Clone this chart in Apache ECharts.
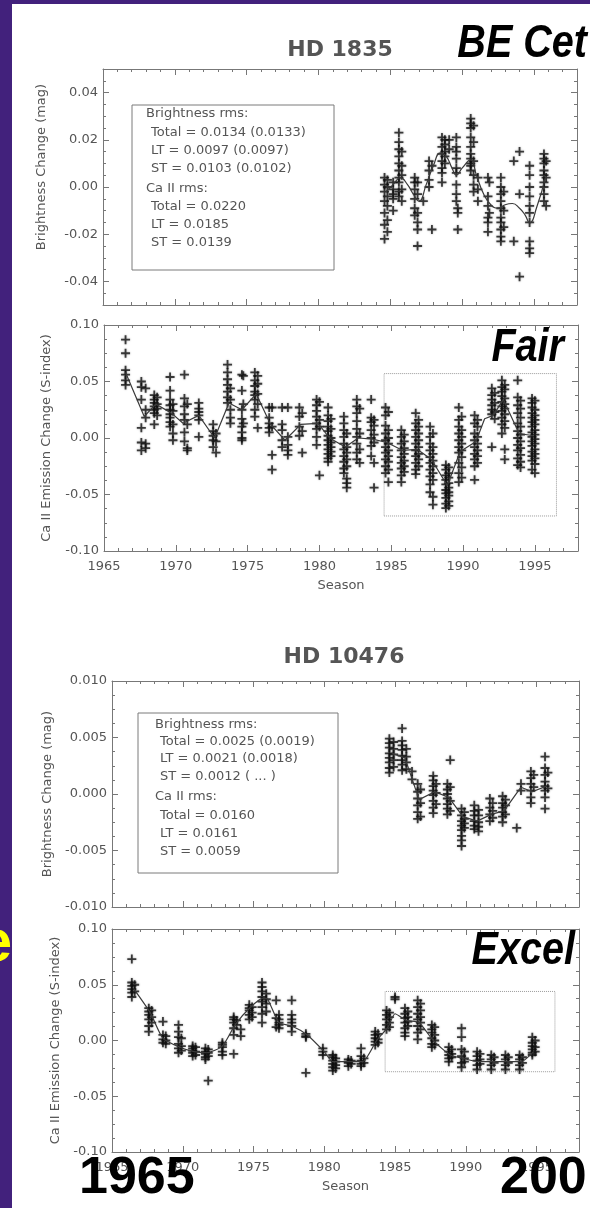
<!DOCTYPE html>
<html><head><meta charset="utf-8">
<script src="https://cdn.jsdelivr.net/npm/echarts@6/dist/echarts.min.js"></script>
<style>html,body{margin:0;padding:0;background:#fff}#c{width:590px;height:1208px}</style>
</head><body><div id="c"></div>
<script>
// ---------- DATA ----------
const xLabelYears = [1965, 1970, 1975, 1980, 1985, 1990, 1995];
const photTicks1835 = [-0.04, -0.02, 0, 0.02, 0.04];
const caTicks = [-0.10, -0.05, 0, 0.05, 0.10];
const photTicks10476 = [-0.010, -0.005, 0, 0.005, 0.010];

// HD 1835 brightness: [season, [values]]
const hd1835Phot = [
 [1984.6,[0.004,0.001,-0.002,-0.006,-0.011,-0.016,-0.022]],
 [1984.8,[0.003,0.000,-0.004,-0.008,-0.014,-0.019]],
 [1985.2,[0.002,-0.001,-0.005,-0.010,-0.003]],
 [1985.6,[0.023,0.019,0.016,0.013,0.010,0.007,0.004,0.002,-0.002,-0.004]],
 [1985.8,[0.015,0.009,0.005,-0.001,-0.006]],
 [1986.7,[0.004,0.002,-0.001,-0.005,-0.009,-0.012]],
 [1986.9,[0.002,-0.003,-0.011,-0.015,-0.018,-0.025]],
 [1987.3,[-0.006]],
 [1987.7,[0.011,0.007,0.003,0.000]],
 [1987.9,[-0.018,0.009]],
 [1988.6,[0.021,0.017,0.014,0.011,0.008,0.006,0.002]],
 [1988.8,[0.020,0.018,0.015,0.013,0.010]],
 [1989.1,[0.020,0.016]],
 [1989.6,[0.021,0.017,0.015,0.012,0.008,0.006,0.001,-0.003,-0.006]],
 [1989.7,[-0.009,-0.011,-0.018]],
 [1990.6,[0.029,0.027,0.025,0.021,0.017,0.014,0.012,0.010,0.009,0.007]],
 [1990.8,[0.026,0.019,0.011,0.005,0.001,-0.002]],
 [1991.1,[0.004,-0.001,-0.006]],
 [1991.8,[0.004,-0.004,-0.008,-0.013,-0.015,-0.019]],
 [1991.9,[0.002,-0.011]],
 [1992.7,[0.004,0.000,-0.003,-0.006,-0.009,-0.013,-0.015,-0.018,-0.021,-0.023]],
 [1992.9,[-0.002,-0.010,-0.017]],
 [1993.6,[0.011,-0.023]],
 [1994.0,[0.015,-0.003,-0.038]],
 [1994.7,[0.009,0.005,0.000,-0.004,-0.008,-0.011,-0.015,-0.023,-0.026,-0.028]],
 [1995.7,[0.014,0.012,0.010,0.007,0.005,0.002,0.000,-0.003,-0.006]],
 [1995.85,[0.011,0.004,-0.008]]
];
const hd1835PhotLtX = [1984.7,1985.2,1985.7,1986.2,1986.6,1987.0,1987.5,1988.0,1988.5,1988.9,1989.3,1989.6,1990.0,1990.6,1991.0,1991.5,1992.0,1992.5,1993.0,1993.5,1994.0,1994.4,1994.7,1995.2,1995.8];
const hd1835PhotLtY = [-0.002,0.001,0.004,0.001,-0.003,-0.006,0.001,0.009,0.0145,0.013,0.008,0.005,0.008,0.0115,0.005,-0.003,-0.0075,-0.009,-0.0075,-0.007,-0.009,-0.012,-0.0153,-0.0085,0.004];

// HD 1835 Ca II
const hd1835Ca = [
 [1966.5,[0.087,0.075,0.060,0.056,0.051,0.047]],
 [1967.6,[0.050,0.045,0.034,0.009,-0.004,-0.011]],
 [1967.9,[0.044,0.025,0.018,-0.005,-0.009]],
 [1968.5,[0.038,0.034,0.031,0.028,0.025,0.022,0.012]],
 [1968.7,[0.036,0.030,0.026,0.020]],
 [1969.6,[0.054,0.042,0.034,0.029,0.025,0.021,0.018,0.014,0.010]],
 [1969.8,[0.030,0.024,0.004,-0.002,0.012]],
 [1970.6,[0.056,0.035,0.028,0.021,0.016,0.005,-0.003]],
 [1970.8,[0.030,0.012,-0.011,-0.009]],
 [1971.6,[0.031,0.026,0.020,0.016,0.001,0.023]],
 [1972.6,[0.012,0.006,0.002,-0.002,-0.008]],
 [1972.8,[0.004,-0.003,-0.013]],
 [1973.6,[0.065,0.058,0.052,0.047,0.041,0.036,0.031]],
 [1973.8,[0.034,0.025,0.018,0.013,0.044]],
 [1974.6,[0.056,0.042,0.025,0.017,0.010,0.005,0.000,-0.002]],
 [1974.7,[0.055,0.030,0.013]],
 [1975.5,[0.058,0.051,0.046,0.041,0.038,0.034,0.025,0.019]],
 [1975.7,[0.055,0.048,0.039,0.030,0.009]],
 [1976.5,[0.027,0.018,0.013,0.009,0.005]],
 [1976.7,[0.027,0.010,-0.015,-0.028]],
 [1977.4,[0.027,0.012,0.007,-0.002,-0.008]],
 [1977.8,[0.027,-0.011,-0.006,-0.015,0.001]],
 [1978.6,[0.027,0.019,0.010,0.002]],
 [1978.8,[0.022,0.006,-0.013]],
 [1979.8,[0.034,0.029,0.024,0.019,0.013,0.008,0.001,-0.006]],
 [1980.0,[0.032,0.016,0.010,-0.033]],
 [1980.6,[0.027,0.020,0.015,0.010,0.006,0.002,-0.002,-0.006,-0.010,-0.014,-0.018,-0.021]],
 [1980.8,[0.017,0.008,0.000,-0.004,-0.008,-0.012,-0.016]],
 [1981.7,[0.019,0.013,0.007,0.001,-0.005,-0.010,-0.016,-0.021,-0.027,-0.031]],
 [1981.9,[0.004,-0.008,-0.013,-0.019,-0.025,-0.036,-0.040,-0.044]],
 [1982.6,[0.034,0.028,0.022,0.015,0.008,0.001,-0.005,-0.013,-0.019]],
 [1982.8,[0.026,0.004,-0.010,-0.022]],
 [1983.6,[0.034,0.018,0.014,0.007,0.000,-0.007,-0.016]],
 [1983.8,[0.016,0.011,0.003,-0.004,-0.044,-0.022]],
 [1984.6,[0.027,0.020,0.011,0.004,-0.002,-0.008,-0.013,-0.019,-0.025,-0.031]],
 [1984.8,[0.023,0.007,0.000,-0.005,-0.011,-0.016,-0.021,-0.028,-0.039]],
 [1985.7,[0.007,0.001,-0.005,-0.011,-0.017,-0.022,-0.027,-0.033,-0.039]],
 [1985.9,[0.003,-0.003,-0.009,-0.014,-0.020,-0.025,-0.030]],
 [1986.7,[0.022,0.013,0.007,0.001,-0.005,-0.011,-0.016,-0.022,-0.028,-0.032]],
 [1986.9,[0.016,0.010,0.004,-0.002,-0.008,-0.014,-0.019,-0.025]],
 [1987.7,[0.010,0.001,-0.005,-0.011,-0.017,-0.022,-0.028,-0.034,-0.041,-0.048]],
 [1987.9,[0.004,-0.008,-0.014,-0.020,-0.025,-0.031,-0.037,-0.052,-0.059]],
 [1988.8,[-0.024,-0.028,-0.033,-0.037,-0.041,-0.046,-0.049,-0.053,-0.058,-0.062]],
 [1989.0,[-0.026,-0.031,-0.035,-0.040,-0.044,-0.048,-0.051,-0.056,-0.060]],
 [1989.7,[0.027,0.016,0.010,0.004,-0.002,-0.008,-0.013,-0.022,-0.031,-0.039]],
 [1989.9,[0.019,0.007,0.001,-0.005,-0.011,-0.017,-0.026,-0.035]],
 [1990.8,[0.020,0.013,0.004,-0.002,-0.008,-0.014,-0.019,-0.025,-0.037]],
 [1991.0,[0.016,0.010,0.001,-0.005,-0.011,-0.016,-0.022]],
 [1992.0,[0.044,0.038,0.034,0.029,0.025,0.021,-0.008]],
 [1992.2,[0.040,0.031,0.023,0.017]],
 [1992.7,[0.051,0.045,0.041,0.037,0.032,0.028,0.024,0.018,0.012,0.004]],
 [1992.9,[0.047,0.043,0.035,0.030,0.026,0.021,0.015,0.009,-0.010,-0.019]],
 [1993.8,[0.051,0.036,0.029,0.022,0.013,0.006,0.000,-0.006,-0.011,-0.018,-0.024]],
 [1994.0,[0.033,0.026,0.018,0.010,0.003,-0.003,-0.009,-0.015,-0.021,-0.026]],
 [1994.8,[0.035,0.031,0.027,0.022,0.018,0.014,0.010,0.005,0.001,-0.003,-0.007,-0.012,-0.016,-0.020,-0.028]],
 [1995.0,[0.033,0.025,0.020,0.016,0.012,0.007,0.003,-0.001,-0.005,-0.010,-0.014,-0.018,-0.023,-0.031]]
];
const hd1835CaLtX = [1966.5,1967.8,1968.6,1969.7,1970.5,1971.6,1972.7,1973.7,1974.6,1975.6,1976.6,1977.6,1978.7,1979.9,1980.7,1981.8,1982.7,1983.7,1984.7,1985.8,1986.8,1987.8,1988.9,1989.8,1990.9,1991.5,1992.1,1992.8,1993.9,1994.9];
const hd1835CaLtY = [0.058,0.019,0.030,0.022,0.013,0.020,0.000,0.031,0.025,0.039,0.012,-0.002,0.012,0.013,0.000,-0.008,0.000,-0.001,-0.004,-0.011,-0.010,-0.019,-0.042,-0.012,-0.003,0.017,0.020,0.034,0.004,0.002];
const hd1835PhotSpan = [1984.5, -0.069, 1996.5, 0.057];

// HD 10476 brightness
const hd10476Phot = [
 [1984.6,[0.0049,0.0045,0.0041,0.0036,0.0032,0.0028,0.0023,0.0019]],
 [1984.9,[0.0046,0.0040,0.0035,0.0030,0.0024]],
 [1985.5,[0.0058,0.0047,0.0043,0.0039,0.0034,0.0030,0.0026,0.0021]],
 [1985.8,[0.0040,0.0033,0.0028,0.0022]],
 [1986.2,[0.0020,0.0013]],
 [1986.6,[0.0009,0.0002,-0.0004,-0.0010,-0.0016,-0.0022]],
 [1986.8,[0.0004,-0.0008,-0.0020]],
 [1987.7,[0.0016,0.0012,0.0007,0.0003,-0.0001,-0.0006,-0.0012,-0.0017]],
 [1987.9,[0.0009,0.0001,-0.0009]],
 [1988.7,[0.0009,0.0004,0.0000,-0.0004,-0.0009,-0.0013,-0.0018]],
 [1988.9,[0.0030,0.0006,-0.0006,-0.0015]],
 [1989.7,[-0.0013,-0.0019,-0.0024,-0.0028,-0.0032,-0.0037,-0.0041,-0.0046]],
 [1989.9,[-0.0016,-0.0022,-0.0026,-0.0030]],
 [1990.6,[-0.0010,-0.0015,-0.0019,-0.0024,-0.0028,-0.0031]],
 [1990.9,[-0.0014,-0.0019,-0.0025,-0.0029,-0.0033]],
 [1991.7,[-0.0004,-0.0012,-0.0018,-0.0024]],
 [1991.9,[-0.0008,-0.0015,-0.0021]],
 [1992.6,[-0.0002,-0.0008,-0.0012,-0.0016,-0.0020,-0.0025]],
 [1992.8,[-0.0005,-0.0010,-0.0018]],
 [1993.6,[-0.0030]],
 [1993.9,[0.0009,0.0003]],
 [1994.6,[0.0020,0.0014,0.0009,0.0003,-0.0003,-0.0008]],
 [1994.8,[0.0017,0.0006]],
 [1995.6,[0.0033,0.0023,0.0017,0.0011,0.0007,0.0003,-0.0003,-0.0013]],
 [1995.8,[0.0019,0.0005]]
];
const hd10476PhotLtX = [1984.8,1985.7,1986.7,1987.8,1988.8,1989.8,1990.8,1991.8,1992.7,1993.9,1994.7,1995.7];
const hd10476PhotLtY = [0.0036,0.0032,-0.0005,0.0002,-0.0003,-0.0020,-0.0024,-0.0018,-0.0015,0.0006,0.0002,0.0007];

// HD 10476 Ca II
const hd10476Ca = [
 [1966.4,[0.073,0.052,0.049,0.046,0.043,0.039]],
 [1966.6,[0.050,0.044]],
 [1967.6,[0.029,0.026,0.023,0.019,0.013,0.008]],
 [1967.8,[0.027,0.021,0.016]],
 [1968.6,[0.017,0.005,0.001,-0.002]],
 [1968.8,[0.004,0.000,-0.003]],
 [1969.7,[0.014,0.008,0.003,-0.003,-0.007,-0.011]],
 [1969.9,[0.002,-0.005,-0.009]],
 [1970.7,[-0.005,-0.007,-0.009,-0.011,-0.014]],
 [1970.9,[-0.006,-0.010,-0.013]],
 [1971.6,[-0.007,-0.010,-0.012,-0.015,-0.017]],
 [1971.8,[-0.008,-0.011,-0.014,-0.036]],
 [1972.8,[-0.002,-0.006,-0.010,-0.013,-0.004]],
 [1973.6,[0.021,0.019,0.016,0.011,0.005,-0.012]],
 [1973.8,[0.018,0.014]],
 [1974.1,[0.010,0.004]],
 [1974.7,[0.032,0.029,0.027,0.023,0.019]],
 [1974.9,[0.030,0.025,0.021]],
 [1975.6,[0.052,0.048,0.044,0.039,0.035,0.030,0.024,0.016]],
 [1975.9,[0.042,0.037,0.033,0.026]],
 [1976.6,[0.036,0.020,0.012]],
 [1976.8,[0.023,0.019,0.016,0.014,0.011]],
 [1977.7,[0.036,0.023,0.019,0.016,0.013,0.008]],
 [1978.7,[0.006,0.004,0.003,-0.029]],
 [1979.9,[-0.007,-0.010,-0.013]],
 [1980.6,[-0.013,-0.015,-0.018,-0.021,-0.024,-0.027]],
 [1980.8,[-0.016,-0.019,-0.022,-0.025]],
 [1981.7,[-0.017,-0.020,-0.023,-0.019]],
 [1981.9,[-0.018,-0.021]],
 [1982.6,[-0.007,-0.014,-0.018,-0.021,-0.023]],
 [1982.8,[-0.016,-0.020]],
 [1983.6,[0.008,0.005,0.002,-0.001,-0.004]],
 [1983.8,[0.006,0.001,-0.002]],
 [1984.4,[0.027,0.023,0.019,0.014,0.010]],
 [1984.6,[0.025,0.021,0.016,0.012]],
 [1985.0,[0.039,0.037]],
 [1985.7,[0.029,0.024,0.020,0.016,0.011,0.007,0.004]],
 [1985.9,[0.026,0.021,0.017,0.013]],
 [1986.6,[0.036,0.030,0.024,0.019,0.013,0.007,0.001]],
 [1986.8,[0.033,0.027,0.021,0.016,0.010]],
 [1987.6,[0.014,0.010,0.007,0.002,-0.003,-0.006]],
 [1987.8,[0.012,0.005,0.000,-0.004]],
 [1988.8,[-0.006,-0.010,-0.013,-0.016,-0.019]],
 [1989.0,[-0.008,-0.012,-0.015]],
 [1989.7,[0.011,0.003,-0.008,-0.014,-0.020,-0.024]],
 [1989.9,[-0.010,-0.016,-0.019]],
 [1990.8,[-0.010,-0.014,-0.018,-0.022,-0.026]],
 [1991.0,[-0.012,-0.017,-0.021]],
 [1991.8,[-0.013,-0.017,-0.022,-0.026]],
 [1992.0,[-0.015,-0.020]],
 [1992.8,[-0.013,-0.017,-0.022,-0.026]],
 [1993.0,[-0.015,-0.020]],
 [1993.8,[-0.013,-0.017,-0.022,-0.026]],
 [1994.0,[-0.015,-0.020]],
 [1994.7,[0.003,-0.002,-0.005,-0.008,-0.011,-0.013]],
 [1994.9,[0.000,-0.006,-0.010]]
];
const hd10476CaLtX = [1966.5,1967.7,1968.6,1969.8,1970.8,1971.7,1972.8,1973.7,1974.8,1975.7,1976.0,1976.8,1977.7,1978.8,1980.0,1980.6,1981.7,1982.7,1983.7,1984.5,1985.0,1985.8,1986.7,1987.7,1988.9,1989.8,1990.9,1991.9,1992.9,1993.9,1994.8];
const hd10476CaLtY = [0.047,0.025,0.002,-0.006,-0.010,-0.011,-0.005,0.014,0.030,0.038,0.037,0.016,0.013,0.005,-0.010,-0.019,-0.019,-0.019,0.000,0.012,0.024,0.018,0.016,0.000,-0.013,-0.016,-0.019,-0.019,-0.019,-0.019,-0.010];
const hd10476PhotSpan = [1984.3, -0.028, 1996.3, 0.044];

const hd1835Stats = ['Brightness rms:', 'Total = 0.0134 (0.0133)', 'LT = 0.0097 (0.0097)', 'ST = 0.0103 (0.0102)', 'Ca II rms:', 'Total = 0.0220', 'LT = 0.0185', 'ST = 0.0139'];
const hd10476Stats = ['Brightness rms:', 'Total = 0.0025 (0.0019)', 'LT = 0.0021 (0.0018)', 'ST = 0.0012 ( ... )', 'Ca II rms:', 'Total = 0.0160', 'LT = 0.0161', 'ST = 0.0059'];

// ---------- BUILD ----------
const FONT = '"DejaVu Sans", sans-serif';
const TXT = '#555';
const LC = '#777';
const PLUS = 'path://M4 0h2v4h4v2h-4v4h-2v-4h-4v-2h4z';

function pts(clusters) { return clusters.flatMap(([x, ys]) => ys.map(y => [x, y])); }
function zip(xs, ys) { return xs.map((x, i) => [x, ys[i]]); }
function fmt(v, d) { return (Math.abs(v) < 1e-9 ? 0 : v).toFixed(d); }

const grids = [
  {left:103, top:69, width:474, height:236},
  {left:104, top:325, width:474, height:226},
  {left:112, top:681, width:467, height:226},
  {left:112, top:929, width:467, height:223}
];
const panelCfg = [
  {yMin:-0.05, yMax:0.05, yMinor:0.005, yMajor:photTicks1835, dec:2, showX:false, yName:'Brightness Change (mag)', gap:55, pad:[0,0,0,40]},
  {yMin:-0.10, yMax:0.10, yMinor:0.0125, yMajor:caTicks, dec:2, showX:true, yName:'Ca II Emission Change (S-index)', gap:51, pad:0},
  {yMin:-0.010, yMax:0.010, yMinor:0.00125, yMajor:photTicks10476, dec:3, showX:false, yName:'Brightness Change (mag)', gap:57, pad:0},
  {yMin:-0.10, yMax:0.10, yMinor:0.0125, yMajor:caTicks, dec:2, showX:true, yName:'Ca II Emission Change (S-index)', gap:49, pad:0}
];

const xAxis = [], yAxis = [];
const tickMinor = {show:true, inside:true, length:3, lineStyle:{color:LC, width:1}};
const tickMajor = vals => ({show:true, inside:true, length:6, customValues:vals, lineStyle:{color:LC, width:1}});
panelCfg.forEach((o, gi) => {
  ['bottom','top'].forEach(pos => {
    const lab = pos === 'bottom' && o.showX;
    xAxis.push({type:'value', gridIndex:gi, position:pos, min:1965, max:1998, interval:1,
      axisLine:{show:true, onZero:false, lineStyle:{color:LC, width:1}},
      axisTick:tickMinor, splitLine:{show:false},
      axisLabel: lab ? {show:true, customValues:xLabelYears, margin:9, color:TXT, fontFamily:FONT, fontSize:13, formatter:v=>String(Math.round(v))} : {show:false},
      name: lab ? 'Season' : '', nameLocation:'middle', nameGap:28,
      nameTextStyle:{color:TXT, fontFamily:FONT, fontSize:13}});
    xAxis.push({type:'value', gridIndex:gi, position:pos, min:1965, max:1998, interval:1,
      axisLine:{show:false, onZero:false}, axisTick:tickMajor(xLabelYears), axisLabel:{show:false}, splitLine:{show:false}});
  });
  ['left','right'].forEach(pos => {
    const lab = pos === 'left';
    yAxis.push({type:'value', gridIndex:gi, position:pos, min:o.yMin, max:o.yMax, interval:o.yMinor,
      axisLine:{show:true, onZero:false, lineStyle:{color:LC, width:1}},
      axisTick:tickMinor, splitLine:{show:false},
      axisLabel: lab ? {show:true, customValues:o.yMajor, margin:5, color:TXT, fontFamily:FONT, fontSize:13, formatter:v=>fmt(v, o.dec)} : {show:false},
      name: lab ? o.yName : '', nameLocation:'middle', nameGap:o.gap, nameRotate:90,
      nameTextStyle:{color:TXT, fontFamily:FONT, fontSize:13, padding:o.pad}});
    yAxis.push({type:'value', gridIndex:gi, position:pos, min:o.yMin, max:o.yMax, interval:o.yMinor,
      axisLine:{show:false, onZero:false}, axisTick:tickMajor(o.yMajor), axisLabel:{show:false}, splitLine:{show:false}});
  });
});

function scatter(gi, clusters, span) {
  const s = {type:'scatter', xAxisIndex:gi*4, yAxisIndex:gi*4, data:pts(clusters), symbol:PLUS, symbolSize:9,
    itemStyle:{color:'#111', opacity:0.78, shadowBlur:2, shadowColor:'rgba(0,0,0,0.45)'}, silent:true, z:3};
  if (span) {
    s.markArea = {silent:true, itemStyle:{color:'rgba(0,0,0,0)', borderColor:'#9a9a9a', borderWidth:1, borderType:'dotted', shadowBlur:0},
      data:[[{coord:[span[0], span[1]]}, {coord:[span[2], span[3]]}]]};
  }
  return s;
}
function ltLine(gi, xs, ys, smooth) {
  return {type:'line', xAxisIndex:gi*4, yAxisIndex:gi*4, data:zip(xs, ys), showSymbol:false, symbol:'none', smooth:smooth,
    lineStyle:{color:'#3a3a3a', width:1.2}, silent:true, z:4};
}

const series = [
  scatter(0, hd1835Phot), ltLine(0, hd1835PhotLtX, hd1835PhotLtY, 0.5),
  scatter(1, hd1835Ca, hd1835PhotSpan), ltLine(1, hd1835CaLtX, hd1835CaLtY, false),
  scatter(2, hd10476Phot), ltLine(2, hd10476PhotLtX, hd10476PhotLtY, false),
  scatter(3, hd10476Ca, hd10476PhotSpan), ltLine(3, hd10476CaLtX, hd10476CaLtY, 0.2)
];

function txt(text, x, y, font, fill, align) {
  return {type:'text', z:100, silent:true, style:{text, x, y, font, fill, align:align||'left', verticalAlign:'middle'}};
}
function narrowTxt(text, x, y) {
  return {type:'text', z:100, silent:true, x, y, scaleX:0.86, scaleY:1,
    style:{text, x:0, y:0, font:'italic bold 46px "Liberation Sans", Arial, sans-serif', fill:'#000', align:'right', verticalAlign:'middle'}};
}
function statsBox(lines, box, xh, xi, ys) {
  const els = [{type:'rect', z:90, silent:true, shape:{x:box[0], y:box[1], width:box[2], height:box[3]},
    style:{fill:'#fff', stroke:'#7a7a7a', lineWidth:1}}];
  lines.forEach((l, i) => {
    const head = (i === 0 || i === 4);
    els.push(txt(l, head ? xh : xi, ys[i], '13px ' + FONT, TXT));
  });
  return els;
}

const graphic = [
  {type:'rect', z:95, silent:true, shape:{x:0, y:0, width:12, height:1208}, style:{fill:'#42217c'}},
  {type:'rect', z:95, silent:true, shape:{x:0, y:0, width:590, height:4}, style:{fill:'#42217c'}},
  txt('HD 1835', 340, 50, 'bold 22px ' + FONT, '#555', 'center'),
  txt('HD 10476', 344, 657, 'bold 22px ' + FONT, '#555', 'center'),
  ...statsBox(hd1835Stats, [132,105,202,165], 146, 151, [114,133,151,169,189,207,225,243]),
  ...statsBox(hd10476Stats, [138,713,200,160], 155, 160, [725,742,759,777,797,816,834,852]),
  narrowTxt('BE Cet', 587, 44),
  narrowTxt('Fair', 564, 348),
  narrowTxt('Excel', 575, 951),
  txt('1965', 79, 1179, 'bold 52px "Liberation Sans", Arial, sans-serif', '#000', 'left'),
  txt('200', 500, 1179, 'bold 52px "Liberation Sans", Arial, sans-serif', '#000', 'left'),
  txt('e', 12, 944, 'bold 60px "Liberation Sans", Arial, sans-serif', '#ffff00', 'right')
];

const chart = echarts.init(document.getElementById('c'), null, {renderer:'canvas', width:590, height:1208});
chart.setOption({
  animation:false,
  backgroundColor:'#ffffff',
  grid:grids.map(g => Object.assign({show:false, containLabel:false}, g)),
  xAxis, yAxis, series, graphic
});
</script></body></html>
